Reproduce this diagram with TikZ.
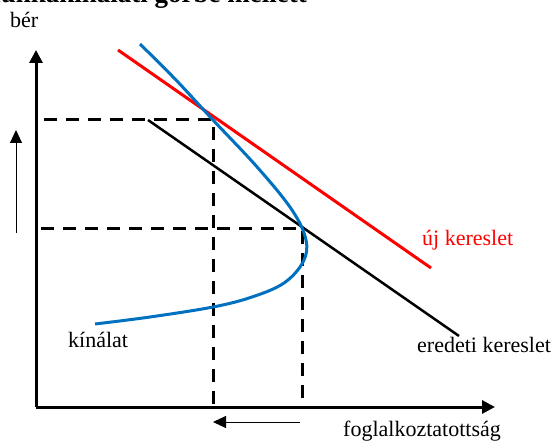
\documentclass[tikz,border=0pt]{standalone}
\usepackage{fontspec}
\setmainfont{Liberation Serif}
\usetikzlibrary{arrows.meta}
\definecolor{supblue}{RGB}{0,112,192}
\begin{document}
\begin{tikzpicture}[x=1pt,y=-1pt,
  lbl/.style={inner sep=0pt,font=\fontsize{22}{26}\selectfont},
  axis/.style={line width=3pt,-{Triangle[length=13pt,width=13pt]}},
  movearrow/.style={line width=1pt,-{Triangle[length=13pt,width=12pt]}},
  guide/.style={line width=3pt,dash pattern=on 13pt off 9pt},
  demand/.style={line width=2.5pt},
  newdemand/.style={line width=3pt,red},
  supply/.style={line width=3pt,supblue}]
\useasboundingbox (0,0) rectangle (557,441);
% title (cut off at the top)
\node[inner sep=0pt,anchor=base east,font=\fontsize{27}{30}\selectfont\bfseries] (title) at (307,3) {munkakínálati görbe mellett};
% axes
\coordinate (O) at (36,407);
\coordinate (Ytip) at (36,50);
\coordinate (Xtip) at (495,407);
\draw[axis] (O) -- (Ytip);
\draw[axis] (O) -- (Xtip);
% guide lines
\coordinate (H1s) at (44,120);
\coordinate (E1) at (213,120);
\coordinate (E1b) at (213,407);
\coordinate (H2s) at (41,228);
\coordinate (E0) at (302,228);
\coordinate (E0b) at (302,407);
\draw[guide] (H1s) -- (E1) -- (E1b);
\draw[guide] (H2s) -- (E0) -- (E0b);
% demand curves
\coordinate (D0a) at (148,120);
\coordinate (D0b) at (459,336);
\draw[demand] (D0a) -- (D0b);
\coordinate (D1a) at (118,50);
\coordinate (D1b) at (431,268);
\draw[newdemand] (D1a) -- (D1b);
% supply curve
\draw[supply] plot[smooth,tension=0.6] coordinates {(140,44) (176,80) (213,120) (258,168) (292,210) (306,240) (303,262) (284,283) (252,297) (213,307) (150,317) (95,324)};
% shift arrows
\coordinate (A1s) at (16,233);
\coordinate (A1e) at (16,130);
\draw[movearrow] (A1s) -- (A1e);
\coordinate (A2s) at (300,422);
\coordinate (A2e) at (213,422);
\draw[movearrow] (A2s) -- (A2e);
% labels
\node[lbl,anchor=base west] (ber) at (10,28) {bér};
\node[lbl,anchor=base west] (kin) at (68,347) {kínálat};
\node[lbl,anchor=base west,text=red] (uj) at (422,245) {új kereslet};
\node[lbl,anchor=base west] (ered) at (417,352) {eredeti kereslet};
\node[lbl,anchor=base west] (fog) at (343,436) {foglalkoztatottság};
\end{tikzpicture}
\end{document}
